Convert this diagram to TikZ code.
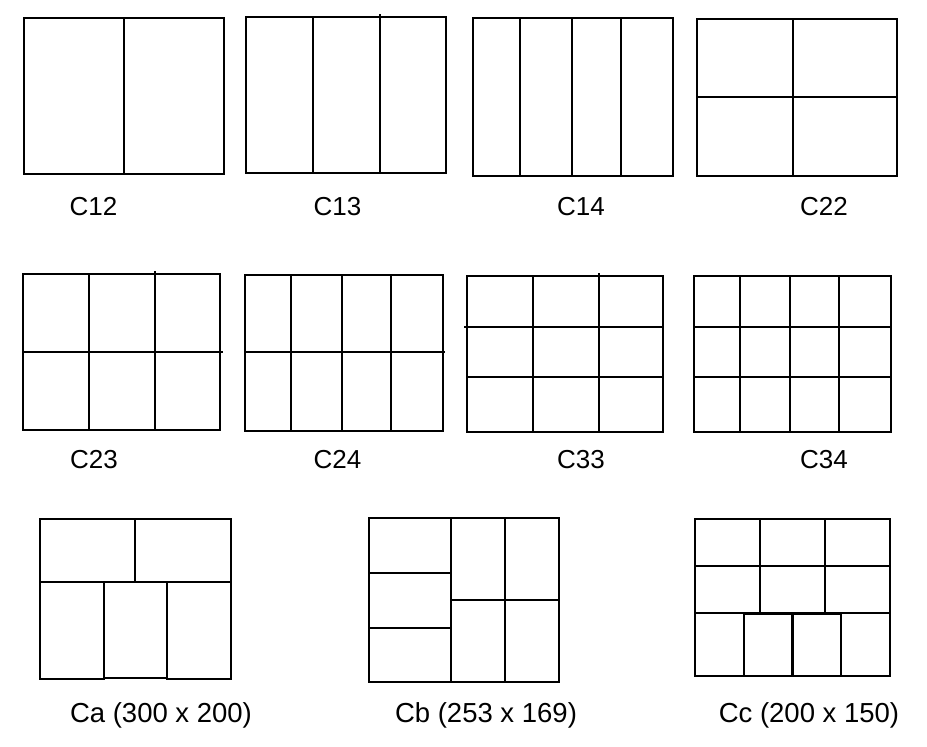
\documentclass[tikz,border=0pt]{standalone}
\usepackage{fontspec}
\setmainfont{Liberation Sans}
\begin{document}
\begin{tikzpicture}[x=1pt,y=-1pt,
  grid/.style={draw=black,line width=1.9pt,line cap=rect},
  lbl/.style={anchor=base,inner sep=0pt,font=\fontsize{26}{30}\selectfont},
  biglbl/.style={anchor=base,inner sep=0pt,font=\fontsize{27.5}{32}\selectfont}]
\useasboundingbox (0,0) rectangle (927,747);
% ---------- Row 1 ----------
% C12
\draw[grid] (23.7,17.7) rectangle (223.7,174.3);
\draw[grid] (124,17.7) -- (124,174.3);
\node[lbl] (c12) at (93.5,215) {C12};
% C13
\draw[grid] (246,16.7) rectangle (446,173.3);
\draw[grid] (312.7,16.7) -- (312.7,173.3);
\draw[grid] (380,15) -- (380,171.7);
\node[lbl] (c13) at (337.5,215) {C13};
% C14
\draw[grid] (472.7,17.7) rectangle (672.7,175.7);
\foreach \x in {520,571.7,621} \draw[grid] (\x,17.7) -- (\x,175.7);
\node[lbl] (c14) at (581,215) {C14};
% C22
\draw[grid] (696.7,19) rectangle (896.7,175.7);
\draw[grid] (792.7,19) -- (792.7,175.7);
\draw[grid] (696.7,97) -- (896.7,97);
\node[lbl] (c22) at (824,215) {C22};
% ---------- Row 2 ----------
% C23
\draw[grid] (22.7,274) rectangle (220,430);
\draw[grid] (89,274) -- (89,430);
\draw[grid] (155,272.3) -- (155,427.7);
\draw[grid] (22.7,352.3) -- (221.7,352.3);
\node[lbl] (c23) at (94,468) {C23};
% C24
\draw[grid] (245,274.7) rectangle (442.7,431);
\foreach \x in {291,342,391} \draw[grid] (\x,274.7) -- (\x,431);
\draw[grid] (245,352.3) -- (444,352.3);
\node[lbl] (c24) at (337.5,468) {C24};
% C33
\draw[grid] (466.7,275.7) rectangle (663,431.7);
\draw[grid] (532.7,275.7) -- (532.7,431.7);
\draw[grid] (599,274.3) -- (599,430);
\draw[grid] (465,326.7) -- (663,326.7);
\draw[grid] (466.7,377.3) -- (663,377.3);
\node[lbl] (c33) at (581,468) {C33};
% C34
\draw[grid] (693.7,275.7) rectangle (891.3,431.7);
\foreach \x in {739.7,790,839} \draw[grid] (\x,275.7) -- (\x,431.7);
\draw[grid] (693.7,326.7) -- (891.3,326.7);
\draw[grid] (693.7,377.3) -- (891.3,377.3);
\node[lbl] (c34) at (824,468) {C34};
% ---------- Row 3 ----------
% Ca
\draw[grid] (40,679) -- (40,519) -- (230.7,519) -- (230.7,679) -- (166.7,679);
\draw[grid] (104,679) -- (40,679);
\draw[grid] (40,582.3) -- (230.7,582.3);
\draw[grid] (135,519) -- (135,582.3);
\draw[grid] (104,582.3) -- (104,679);
\draw[grid] (166.7,582.3) -- (166.7,679);
\draw[grid] (104,677.7) -- (166.7,677.7);
\node[biglbl] (ca) at (161,722) {Ca (300 x 200)};
% Cb
\draw[grid] (369,517.7) rectangle (559,681.7);
\draw[grid] (450.7,517.7) -- (450.7,681.7);
\draw[grid] (504.7,517.7) -- (504.7,681.7);
\draw[grid] (369,572.7) -- (450.7,572.7);
\draw[grid] (369,627.7) -- (450.7,627.7);
\draw[grid] (450.7,599.7) -- (559,599.7);
\node[biglbl] (cb) at (486,722) {Cb (253 x 169)};
% Cc
\draw[grid] (695,519) rectangle (890,676);
\draw[grid] (695,565.7) -- (890,565.7);
\draw[grid] (695,613.3) -- (890,613.3);
\draw[grid] (760,519) -- (760,613.3);
\draw[grid] (825,519) -- (825,613.3);
\draw[grid] (744,614.5) -- (841.3,614.5);
\draw[grid] (744,614.5) -- (744,676);
\draw[grid,line width=2.4pt] (792.3,614.5) -- (792.3,676);
\draw[grid] (841.3,613.3) -- (841.3,676);
\node[biglbl] (cc) at (809,722) {Cc (200 x 150)};
\end{tikzpicture}
\end{document}
